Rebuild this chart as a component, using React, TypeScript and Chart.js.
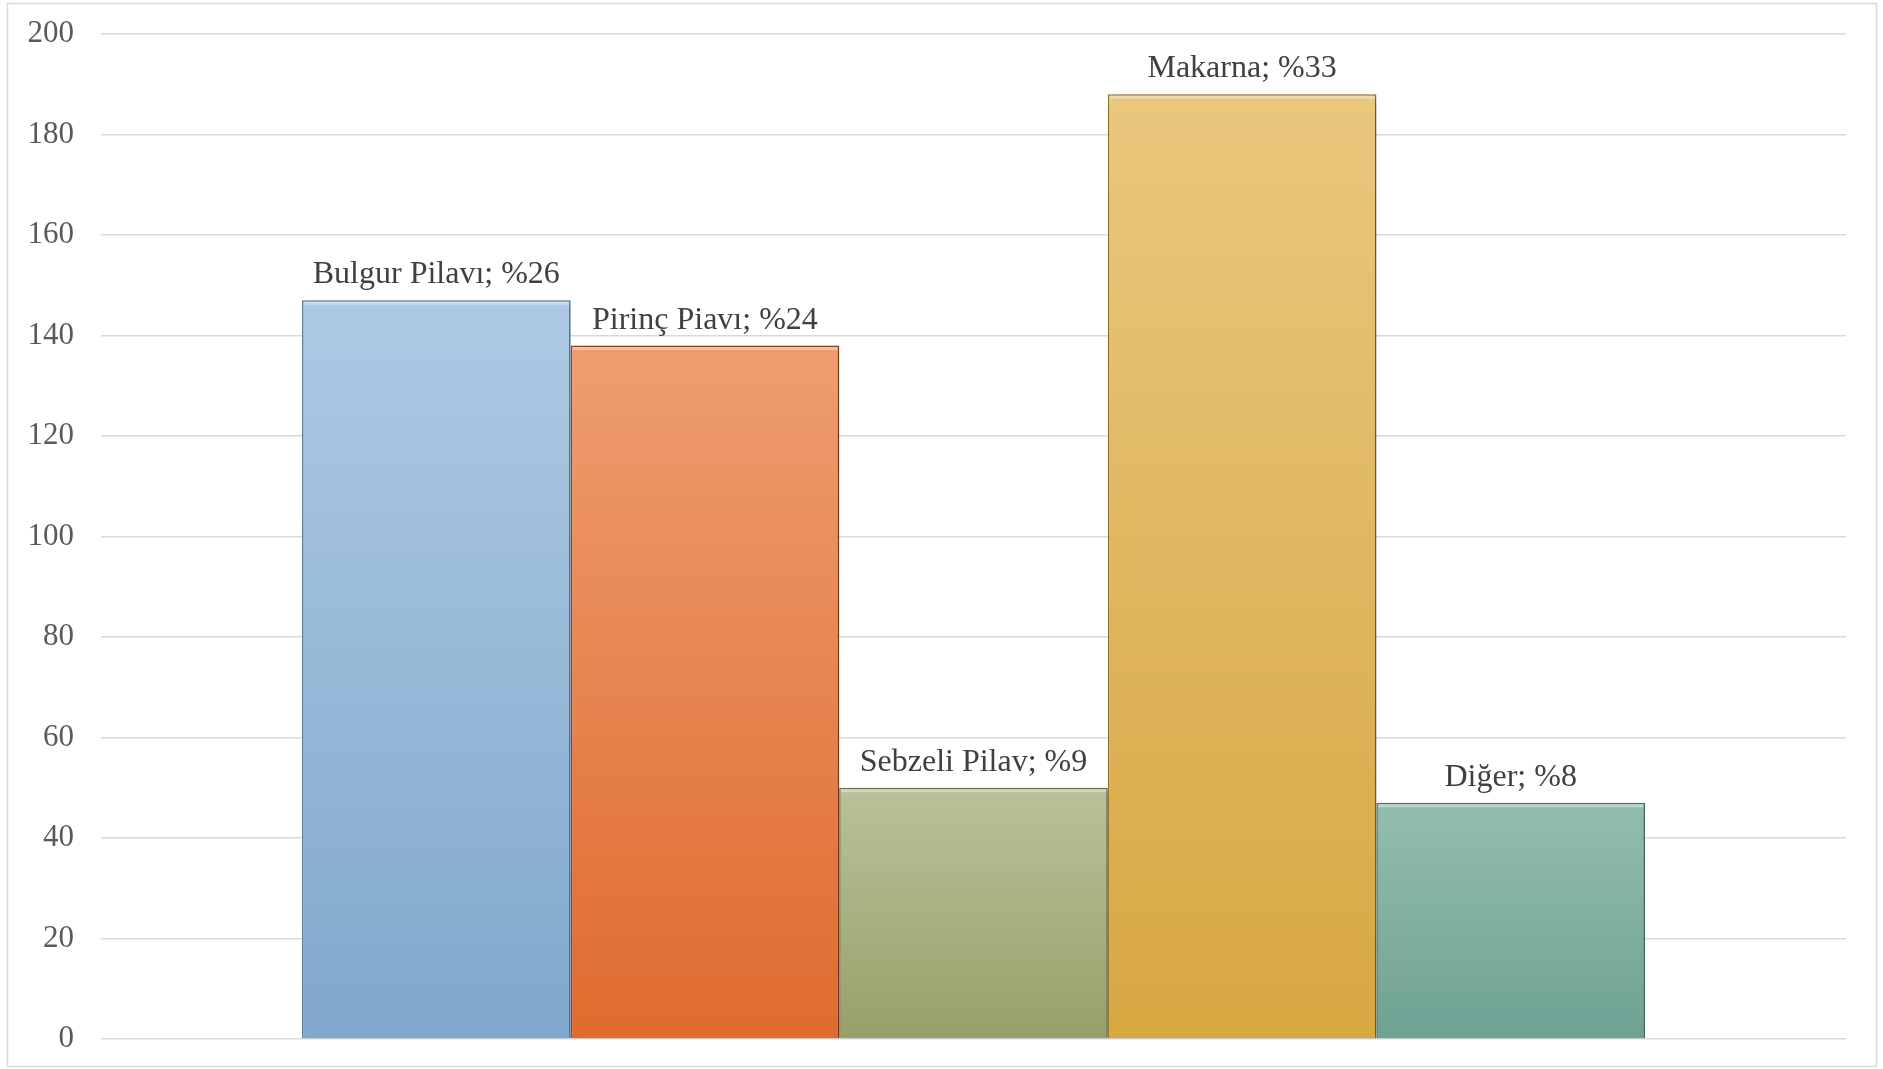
import React, { useEffect, useRef } from "react";
import { Chart, registerables } from "chart.js";

Chart.register(...registerables);

const categories = ["Bulgur Pilavı", "Pirinç Piavı", "Sebzeli Pilav", "Makarna", "Diğer"];
const values = [147, 138, 50, 188, 47];
const percentLabels = ["%26", "%24", "%9", "%33", "%8"];
const yTicks = [0, 20, 40, 60, 80, 100, 120, 140, 160, 180, 200];

const topColors = ["#adcae4", "#ee9d70", "#bac19a", "#e9c77d", "#93bdb1"];
const bottomColors = ["#80a8cc", "#df6b2e", "#96a168", "#d7a741", "#6ea293"];
const edgeColors = ["#5f7f9c", "#9a4a20", "#6e7650", "#9a7830", "#4f7a6d"];

const W = 1883;
const H = 1069;

export default function App() {
  const ref = useRef<HTMLCanvasElement | null>(null);

  useEffect(() => {
    if (!ref.current) return;

    const framePlugin = {
      id: "frame",
      beforeDraw(chart: any) {
        const c = chart.ctx;
        c.save();
        c.fillStyle = "#ffffff";
        c.fillRect(0, 0, chart.width, chart.height);
        c.strokeStyle = "#d9d9d9";
        c.lineWidth = 1.5;
        c.strokeRect(7.5, 3.5, 1869, 1063);
        c.restore();
      },
      beforeDatasetsDraw(chart: any) {
        const c = chart.ctx;
        c.save();
        c.shadowColor = "rgba(0,0,0,0.35)";
        c.shadowBlur = 7;
        c.shadowOffsetX = 3;
        c.shadowOffsetY = 2;
      },
      afterDatasetsDraw(chart: any) {
        const c = chart.ctx;
        c.restore();
        c.save();
        chart.data.datasets.forEach((ds: any, i: number) => {
          const meta = chart.getDatasetMeta(i);
          meta.data.forEach((el: any) => {
            const half = el.width / 2;
            c.fillStyle = "rgba(255,255,255,0.35)";
            c.fillRect(el.x - half + 2, el.y + 1.5, el.width - 4, 3);
          });
        });
        c.font = "32px 'Liberation Serif', 'Times New Roman', serif";
        c.fillStyle = "#404040";
        c.textAlign = "center";
        c.textBaseline = "alphabetic";
        chart.data.datasets.forEach((ds: any, i: number) => {
          const meta = chart.getDatasetMeta(i);
          meta.data.forEach((el: any) => {
            c.fillText(`${categories[i]}; ${percentLabels[i]}`, el.x, el.y - 17);
          });
        });
        c.restore();
      },
    };

    const chart = new Chart(ref.current, {
      type: "bar",
      data: {
        labels: [""],
        datasets: categories.map((name, i) => ({
          label: name,
          data: [values[i]],
          backgroundColor: (ctx: any) => {
            const ch = ctx.chart;
            const y = ch.scales && ch.scales.y;
            if (!y || !ch.chartArea) return topColors[i];
            const top = y.getPixelForValue(values[i]);
            const bottom = y.getPixelForValue(0);
            const g = ch.ctx.createLinearGradient(0, top, 0, bottom);
            g.addColorStop(0, topColors[i]);
            g.addColorStop(1, bottomColors[i]);
            return g;
          },
          borderColor: edgeColors[i],
          borderWidth: 1.5,
          categoryPercentage: 0.7696,
          barPercentage: 1.0,
        })),
      },
      options: {
        responsive: false,
        animation: false,
        layout: { padding: { left: 0, right: 37, top: 34, bottom: 30 } },
        plugins: {
          legend: { display: false },
          tooltip: { enabled: false },
        },
        scales: {
          x: { display: false },
          y: {
            min: 0,
            max: 200,
            afterBuildTicks: (scale: any) => {
              scale.ticks = yTicks.map((v) => ({ value: v }));
            },
            afterFit: (scale: any) => {
              scale.width = 101;
              scale.paddingTop = 0;
              scale.paddingBottom = 0;
            },
            border: { display: false },
            grid: { color: "#d9d9d9", lineWidth: 1.5, drawTicks: false },
            ticks: {
              padding: 27,
              color: "#595959",
              font: { family: "'Liberation Serif', 'Times New Roman', serif", size: 31 },
            },
          },
        },
      },
      plugins: [framePlugin],
    } as any);

    return () => chart.destroy();
  }, []);

  return (
    <div style={{ position: "absolute", left: 0, top: 0, width: W, height: H, background: "#fff" }}>
      <canvas ref={ref} width={W} height={H} style={{ display: "block", width: W, height: H }} />
    </div>
  );
}
